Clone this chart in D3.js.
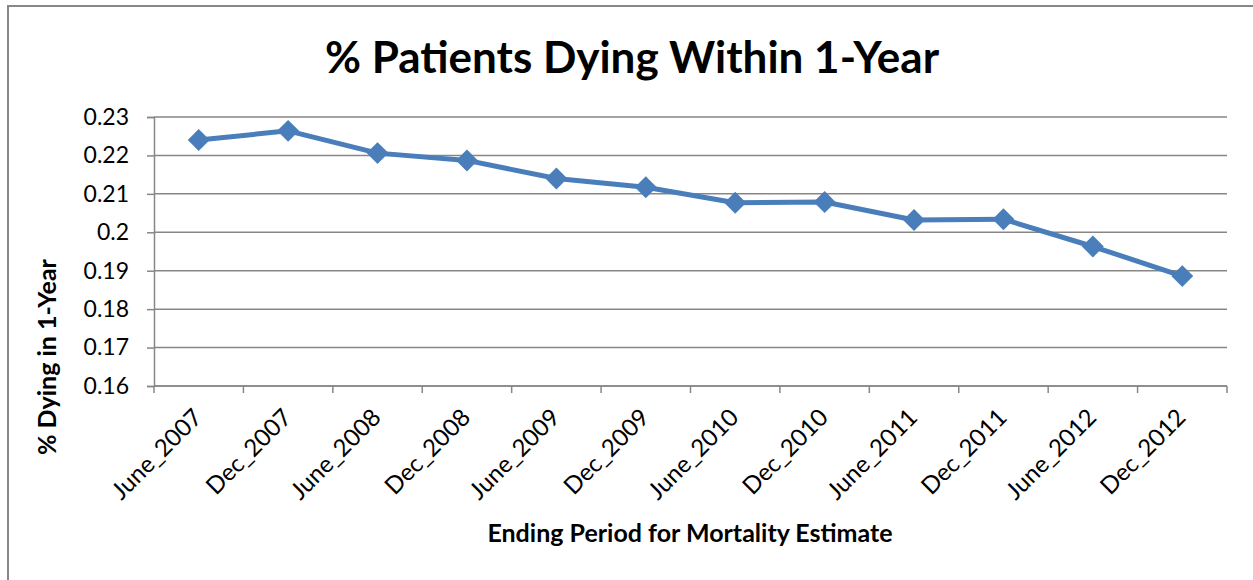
<!DOCTYPE html>
<html>
<head>
<meta charset="utf-8">
<script src="https://cdn.jsdelivr.net/npm/d3@7"></script>
<style>
  body { margin: 0; background: #fff; }
  text { font-family: Lato, "Open Sans", sans-serif; fill: #000; }
</style>
</head>
<body>
<script>
// data
const periods = ["June_2007", "Dec_2007", "June_2008", "Dec_2008", "June_2009", "Dec_2009",
                 "June_2010", "Dec_2010", "June_2011", "Dec_2011", "June_2012", "Dec_2012"];
const pctDying = [0.2240, 0.2264, 0.2206, 0.2187, 0.2140, 0.2117,
                  0.2077, 0.2079, 0.2032, 0.2034, 0.1963, 0.1886];
const yTicks = [0.16, 0.17, 0.18, 0.19, 0.2, 0.21, 0.22, 0.23];

const w = 1253, h = 580;
const margin = {top: 117, right: 26, bottom: 194, left: 154};
const grey = "#878787";
const blue = "#4a7ebb";

const svg = d3.select("body").append("svg")
  .attr("width", w)
  .attr("height", h);

// chart frame
svg.append("rect")
  .attr("x", 8).attr("y", 6)
  .attr("width", w + 10).attr("height", h + 10)
  .attr("fill", "none")
  .attr("stroke", grey)
  .attr("stroke-width", 2);

const x = d3.scaleBand()
  .domain(periods)
  .range([margin.left, w - margin.right]);

const y = d3.scaleLinear()
  .domain([0.16, 0.23])
  .range([h - margin.bottom, margin.top]);

// gridlines
svg.append("g")
  .selectAll("line")
  .data(yTicks)
  .enter()
  .append("line")
  .attr("x1", margin.left)
  .attr("x2", w - margin.right)
  .attr("y1", d => y(d))
  .attr("y2", d => y(d))
  .attr("stroke", grey)
  .attr("stroke-width", 1.5);

// y axis
const yAxis = svg.append("g")
  .attr("transform", "translate(" + margin.left + ",0)")
  .call(d3.axisLeft(y).tickValues(yTicks).tickSize(7).tickPadding(18).tickFormat(d => String(+d.toFixed(2))));
yAxis.selectAll("line, path").attr("stroke", grey).attr("stroke-width", 1.5);
yAxis.selectAll("text").attr("font-size", 23).attr("font-family", "Lato, sans-serif");

// x axis, ticks on band edges
const xAxis = svg.append("g")
  .attr("transform", "translate(0," + (h - margin.bottom) + ")");
xAxis.append("line")
  .attr("x1", margin.left).attr("x2", w - margin.right)
  .attr("stroke", grey).attr("stroke-width", 1.5);
xAxis.selectAll("line.tick")
  .data(periods.concat(["end"]))
  .enter()
  .append("line")
  .attr("class", "tick")
  .attr("x1", (d, i) => margin.left + i * x.step())
  .attr("x2", (d, i) => margin.left + i * x.step())
  .attr("y1", 0).attr("y2", 7)
  .attr("stroke", grey).attr("stroke-width", 1.5);
xAxis.selectAll("text")
  .data(periods)
  .enter()
  .append("text")
  .attr("transform", d => "translate(" + (x(d) + x.bandwidth() / 2 - 7) + ",21) rotate(-45)")
  .attr("text-anchor", "end")
  .attr("dy", "0.7em")
  .attr("font-size", 24)
  .text(d => d);

// line + markers
const line = d3.line()
  .x((d, i) => x(periods[i]) + x.bandwidth() / 2)
  .y(d => y(d));

svg.append("path")
  .datum(pctDying)
  .attr("d", line)
  .attr("fill", "none")
  .attr("stroke", blue)
  .attr("stroke-width", 5)
  .attr("stroke-linejoin", "round");

svg.selectAll("path.marker")
  .data(pctDying)
  .enter()
  .append("path")
  .attr("class", "marker")
  .attr("d", d3.symbol(d3.symbolSquare, 240))
  .attr("transform", (d, i) => "translate(" + (x(periods[i]) + x.bandwidth() / 2) + "," + y(d) + ") rotate(45)")
  .attr("fill", blue);

// titles
svg.append("text")
  .attr("x", 632).attr("y", 73)
  .attr("text-anchor", "middle")
  .attr("font-size", 44)
  .attr("font-weight", "bold")
  .text("% Patients Dying Within 1-Year");

svg.append("text")
  .attr("x", 690).attr("y", 542)
  .attr("text-anchor", "middle")
  .attr("font-size", 25)
  .attr("font-weight", "bold")
  .text("Ending Period for Mortality Estimate");

svg.append("text")
  .attr("transform", "translate(56,357) rotate(-90)")
  .attr("text-anchor", "middle")
  .attr("font-size", 25)
  .attr("font-weight", "bold")
  .text("% Dying in 1-Year");
</script>
</body>
</html>
